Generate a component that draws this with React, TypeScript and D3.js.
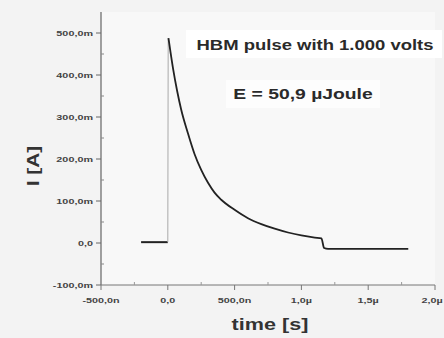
import React from "react";
import * as d3 from "d3";

// time in ns, current in mA
const preTime = [-200, -150, -100, -50, 0];
const preCurrent = [2, 2, 2, 2, 2];
const decayTime = [5, 20, 40, 70, 100, 150, 200, 250, 300, 350, 400, 500, 600, 700, 800, 900, 1000, 1100, 1150, 1170, 1200, 1400, 1600, 1800];
const decayCurrent = [488, 455, 414, 362, 318, 262, 212, 174, 144, 120, 103, 79, 59, 45, 34, 25, 18, 13, 11, -12, -14, -14, -14, -14];
const yTicks = [-100, 0, 100, 200, 300, 400, 500];
const yTickLabels = ["-100,0m", "0,0", "100,0m", "200,0m", "300,0m", "400,0m", "500,0m"];
const xTicks = [-500, 0, 500, 1000, 1500, 2000];
const xTickLabels = ["-500,0n", "0,0", "500,0n", "1,0\u00b5", "1,5\u00b5", "2,0\u00b5"];
const yMinor = [-50, 50, 150, 250, 350, 450];
const xMinor = [-250, 250, 750, 1250, 1750];

export default function App() {
  const W = 444, H = 338;
  const x = d3.scaleLinear().domain([-500, 2000]).range([101, 435]);
  const y = d3.scaleLinear().domain([-100, 550]).range([285, 12]);
  const line = d3.line<[number, number]>().x(d => x(d[0])).y(d => y(d[1])).curve(d3.curveMonotoneX);
  const pre: [number, number][] = preTime.map((t, i) => [t, preCurrent[i]]);
  const dec: [number, number][] = decayTime.map((t, i) => [t, decayCurrent[i]]);
  const font = "'Liberation Sans', Arial, sans-serif";
  const tick = { fontFamily: font, fontWeight: "bold" as const, fontSize: 8, fill: "#444" };
  return (
    <svg width={W} height={H} style={{ position: "absolute", left: 0, top: 0, display: "block" }}>
      <rect x={0} y={0} width={W} height={H} fill="#f3f3f3" />
      <rect x={101} y={12} width={334} height={273} fill="#f8f8f8" />
      <rect x={186} y={30} width={256} height={28} fill="#ffffff" />
      <rect x={226} y={80} width={154} height={28} fill="#fdfdfd" />
      {/* axes */}
      <line x1={101} x2={101} y1={y(550)} y2={y(-100)} stroke="#666" strokeWidth={1.2} />
      <line x1={101} x2={x(2000)} y1={285} y2={285} stroke="#777" strokeWidth={1.2} />
      {yTicks.map((v, i) => (
        <g key={"yt" + v}>
          <line x1={96} x2={101} y1={y(v)} y2={y(v)} stroke="#666" />
          <text transform={`translate(93,${y(v)}) scale(1.35,1)`} dy="0.35em" textAnchor="end" {...tick}>{yTickLabels[i]}</text>
        </g>
      ))}
      {yMinor.map(v => (
        <line key={"ym" + v} x1={101} x2={104} y1={y(v)} y2={y(v)} stroke="#888" />
      ))}
      {xTicks.map((v, i) => (
        <g key={"xt" + v}>
          <line x1={x(v)} x2={x(v)} y1={285} y2={290} stroke="#777" />
          <text transform={`translate(${Math.min(x(v), W - 12)},300) scale(1.35,1)`} dy="0.35em" textAnchor="middle" {...tick}>{xTickLabels[i]}</text>
        </g>
      ))}
      {xMinor.map(v => (
        <line key={"xm" + v} x1={x(v)} x2={x(v)} y1={285} y2={282} stroke="#999" />
      ))}
      {/* trace */}
      <path d={line(pre) || ""} fill="none" stroke="#222" strokeWidth={2} />
      <line x1={x(0)} x2={x(3)} y1={y(2)} y2={y(488)} stroke="#aaa" strokeWidth={1} />
      <path d={line(dec) || ""} fill="none" stroke="#222" strokeWidth={1.8} />
      {/* labels */}
      <text transform="translate(315,45) scale(1.32,1)" dy="0.35em" textAnchor="middle" fontFamily={font} fontWeight="bold" fontSize={14} fill="#2a2a2a">HBM pulse with 1.000 volts</text>
      <text transform="translate(303,94) scale(1.38,1)" dy="0.35em" textAnchor="middle" fontFamily={font} fontWeight="bold" fontSize={14} fill="#2a2a2a">E = 50,9 µJoule</text>
      <text transform="translate(270,324) scale(1.35,1)" dy="0.35em" textAnchor="middle" fontFamily={font} fontWeight="bold" fontSize={16} fill="#333">time [s]</text>
      <text transform="translate(33,166) rotate(-90) scale(1.3,1)" dy="0.35em" textAnchor="middle" fontFamily={font} fontWeight="bold" fontSize={16} fill="#333">I [A]</text>
    </svg>
  );
}
